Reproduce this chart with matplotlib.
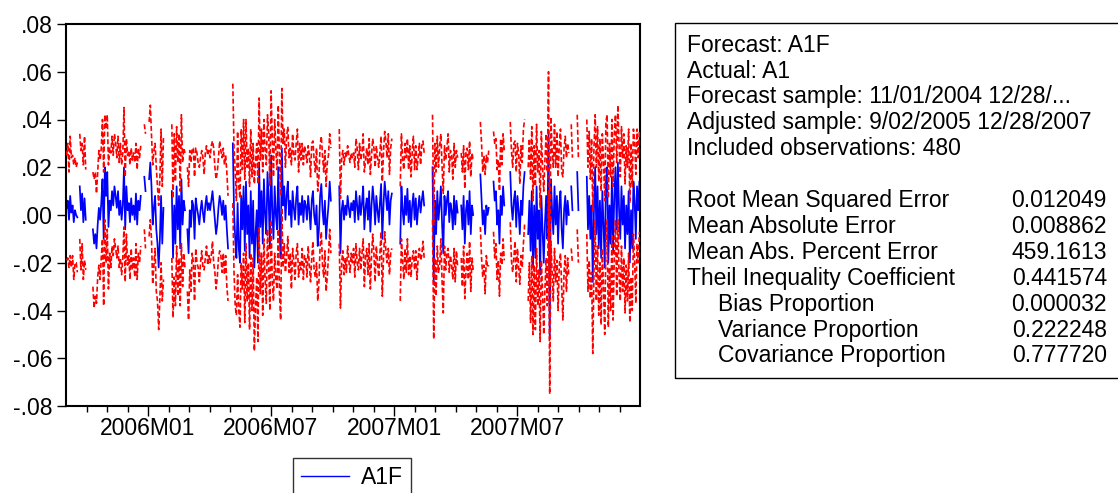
import numpy as np
import matplotlib
matplotlib.use("Agg")
import matplotlib.pyplot as plt
from matplotlib.lines import Line2D
from matplotlib.patches import Rectangle

plt.rcParams['font.family'] = ['Liberation Sans', 'DejaVu Sans']

N = None  # missing observation

# forecast A1F, in thousandths (480 observations, 9/02/2005 - 12/28/2007)
forecast = [
    3, 6, -2, 8, 1, 4, -3, 2, 0, -1, N, 12, 2, 9, -3, 7, -2, N, N, N,
    N, N, -6, -12, -8, -14, -4, 3, -2, 5, 15, -10, 20, 8, 18, -5, 6, 2, 10, 4,
    12, 8, 3, 10, 0, 6, -2, 4, 20, -6, 12, 2, 5, -3, 7, 0, 4, -2, 9, -4,
    6, 2, 8, N, N, 16, 10, N, N, 15, 22, 12, -4, 3, 8, -6, -12, -22, -10, 8,
    -12, 3, N, N, N, N, N, N, 10, -18, 4, -12, 12, -6, 8, -14, 15, -4, 6, 2,
    N, -6, -16, 2, -5, 6, 4, -10, 7, 3, 0, -4, 2, 6, 1, -3, 4, 8, 2, 5,
    2, 6, 10, 4, -2, -8, -4, 3, 8, 5, 0, 6, -2, 4, -6, -14, N, N, N, 30,
    2, -10, -18, 5, -14, -20, 8, -6, 12, -15, 14, -8, 4, -18, 10, -12, 6, -22, -8, 2,
    -20, 22, -5, 10, -12, 15, 0, -8, 18, 6, -14, 25, 2, -10, 12, 0, -6, 20, -4, -18,
    28, 4, 12, -2, 8, 14, 0, 6, -5, 10, 3, -2, 7, 12, -4, 5, 0, 8, -3, 6,
    4, -2, 8, 2, -6, 6, 10, 0, -4, 4, -13, -6, 8, 13, 2, -4, 6, -10, -2, 4,
    14, 6, N, N, N, N, N, N, 12, -16, 2, 6, -2, 4, 0, 8, 3, -1, 5, 2,
    6, -3, 10, 4, -2, 8, 0, 5, 12, -6, 3, 7, -2, 10, -7, 4, 12, 6, -4, 8,
    2, -3, 5, 13, -10, 4, 14, 8, 2, 10, -4, 6, 9, N, N, N, N, N, N, -12,
    12, 2, -4, 8, 0, 11, -3, 6, -5, 4, 9, -2, 7, -4, 3, 8, 1, 6, 10, 4,
    N, N, N, N, N, N, 20, -28, 6, -8, 10, -2, 4, 12, -4, -16, 8, 0, 6, 10,
    -3, 5, 2, -6, 8, -4, 6, 1, N, N, 4, -6, 8, -12, 2, 6, -4, 10, -8, 4,
    0, N, N, N, N, N, 17, 6, -4, 2, -8, 4, 0, 3, N, N, N, 14, 6, 10,
    -4, 2, -12, 8, 0, 12, 4, N, N, N, N, 18, 4, -2, 6, 10, -5, 8, 2, -8,
    6, 0, 12, 18, N, N, -8, 6, -15, 10, -22, 4, -18, 12, -10, 2, -25, 8, -6, -20,
    -4, 8, -10, 35, -52, 15, 2, -8, 12, -4, 8, -12, 4, 10, -6, -14, 2, 8, -4, 6,
    0, N, 12, 2, N, N, N, 18, 2, N, N, N, N, N, N, 16, -6, 8, -10, 4,
    -28, 2, 20, -8, 12, -14, 6, -18, 10, -4, -22, 14, 20, -20, 4, -12, 16, -16, 8, 20,
    -6, 22, 2, -10, 12, -4, 8, -14, 4, -8, 10, -20, 2, -14, 14, 6, -10, 12, 2, 14,
]

# two standard errors around the forecast, in thousandths
two_se = [
    22, 24, 20, 25, 23, 21, 24, 22, 20, 23, N, 22, 25, 21, 24, 26, 21, N, N, N,
    N, N, 24, 27, 26, 23, 22, 24, 25, 23, 25, 28, 22, 28, 24, 26, 22, 24, 23, 21,
    22, 22, 21, 23, 22, 24, 23, 22, 25, 22, 20, 23, 22, 24, 21, 23, 22, 24, 21, 23,
    22, 22, 21, N, N, 22, 24, N, N, 24, 24, 22, 25, 24, 22, 26, 24, 26, 25, 28,
    24, 30, N, N, N, N, N, N, 28, 25, 30, 26, 25, 28, 26, 24, 27, 26, 22, 24,
    N, 26, 28, 25, 27, 22, 24, 26, 21, 23, 22, 24, 22, 21, 23, 20, 22, 21, 23, 22,
    22, 23, 21, 24, 22, 23, 22, 21, 23, 22, 24, 22, 23, 21, 24, 22, N, N, N, 25,
    26, 28, 24, 30, 26, 27, 28, 25, 28, 30, 26, 28, 24, 30, 26, 28, 24, 35, 30, 28,
    33, 27, 28, 26, 30, 25, 27, 29, 24, 28, 26, 27, 30, 26, 28, 27, 25, 26, 28, 26,
    25, 26, 24, 22, 25, 23, 24, 22, 26, 24, 22, 25, 23, 24, 22, 25, 23, 22, 24, 23,
    22, 24, 21, 23, 22, 24, 21, 23, 22, 24, 23, 22, 21, 20, 23, 22, 21, 22, 24, 21,
    20, 22, N, N, N, N, N, N, 24, 23, 22, 21, 23, 22, 24, 21, 22, 23, 21, 22,
    20, 23, 22, 24, 21, 22, 23, 21, 22, 24, 20, 21, 23, 22, 24, 21, 20, 22, 24, 21,
    22, 23, 21, 20, 24, 22, 21, 23, 22, 24, 21, 22, 23, N, N, N, N, N, N, 24,
    22, 21, 23, 22, 24, 21, 22, 23, 21, 22, 24, 21, 22, 23, 21, 22, 20, 23, 21, 22,
    N, N, N, N, N, N, 22, 24, 24, 26, 23, 22, 25, 22, 24, 25, 21, 23, 22, 24,
    21, 22, 23, 21, 22, 24, 21, 23, N, N, 22, 24, 21, 23, 25, 22, 23, 21, 24, 22,
    23, N, N, N, N, N, 22, 24, 22, 23, 25, 21, 22, 24, N, N, N, 21, 24, 22,
    23, 21, 22, 24, 21, 22, 23, N, N, N, N, 21, 23, 22, 24, 21, 23, 22, 24, 21,
    23, 22, 24, 22, N, N, 28, 26, 30, 27, 28, 25, 30, 26, 28, 25, 28, 27, 26, 30,
    27, 26, 28, 25, 23, 26, 25, 28, 26, 24, 27, 28, 25, 26, 24, 30, 26, 25, 28, 24,
    26, N, 26, 22, N, N, N, 24, 22, N, N, N, N, N, N, 24, 26, 27, 25, 28,
    30, 26, 22, 28, 25, 28, 26, 28, 24, 27, 28, 25, 22, 27, 26, 28, 24, 28, 26, 22,
    28, 24, 27, 26, 25, 28, 26, 27, 25, 28, 26, 25, 28, 26, 22, 25, 27, 24, 22, 21,
]

n_months = 28  # Sep 2005 .. Dec 2007
minor_months = list(range(1, 28))
major_months = [4, 10, 16, 22]
major_labels = ["2006M01", "2006M07", "2007M01", "2007M07"]
y_ticks = [0.08, 0.06, 0.04, 0.02, 0.0, -0.02, -0.04, -0.06, -0.08]

header_lines = [
    "Forecast: A1F",
    "Actual: A1",
    "Forecast sample: 11/01/2004 12/28/...",
    "Adjusted sample: 9/02/2005 12/28/2007",
    "Included observations: 480",
]
stat_names = [
    "Root Mean Squared Error",
    "Mean Absolute Error",
    "Mean Abs. Percent Error",
    "Theil Inequality Coefficient",
    "Bias Proportion",
    "Variance Proportion",
    "Covariance Proportion",
]
stat_values = ["0.012049", "0.008862", "459.1613", "0.441574",
               "0.000032", "0.222248", "0.777720"]
stat_indented = [False, False, False, False, True, True, True]

f = np.array(forecast, dtype=float) / 1000
se2 = np.array(two_se, dtype=float) / 1000
assert len(f) == 480 and len(se2) == 480
x = (np.arange(len(f)) + 0.5) * n_months / len(f)

FS = 16.5
W, H = 1118, 493
fig = plt.figure(figsize=(W / 100, H / 100), dpi=100)
ax = fig.add_axes([66 / W, 87 / H, 574 / W, 382 / H])

ax.plot(x, f, color="#0000ff", lw=1.25, zorder=2)
ax.plot(x, f + se2, color="#ff0000", lw=1.2, dashes=(3, 1.5), zorder=3)
ax.plot(x, f - se2, color="#ff0000", lw=1.2, dashes=(3, 1.5), zorder=3)

ax.set_xlim(0, n_months)
ax.set_ylim(-0.08, 0.08)
ax.set_yticks(y_ticks)
ax.set_yticklabels([("%.2f" % v).replace("0.", ".", 1) for v in y_ticks])
ax.set_xticks(major_months)
ax.set_xticklabels(major_labels)
ax.set_xticks([m for m in minor_months if m not in major_months], minor=True)

ax.tick_params(axis="y", direction="out", length=6.5, width=1, pad=3,
               labelsize=FS, right=False)
ax.tick_params(axis="x", which="major", direction="out", length=7, width=1,
               pad=1, labelsize=FS, top=False)
ax.tick_params(axis="x", which="minor", direction="out", length=4.3, width=1,
               top=False)
for sp in ax.spines.values():
    sp.set_linewidth(1.5)
    sp.set_color("black")

# legend below the plot
leg = fig.legend([Line2D([], [], color="#0000ff", lw=1.0)], ["A1F"],
                 loc="upper left", bbox_to_anchor=(293 / W, 35 / H),
                 fontsize=FS, frameon=True, fancybox=False, edgecolor="black",
                 borderaxespad=0, handlelength=2.1, handletextpad=0.5,
                 borderpad=0.35)
leg.get_frame().set_linewidth(1.0)

# statistics box
fig.patches.append(Rectangle((675 / W, 115 / H), 460 / W, 355 / H,
                             transform=fig.transFigure, fill=False,
                             edgecolor="black", lw=1.0, clip_on=False))
line_h = 25.9
y0 = 51.7
for k, s in enumerate(header_lines):
    fig.text(687 / W, (H - (y0 + k * line_h)) / H, s, fontsize=FS,
             va="baseline", ha="left")
for k, (s, v, ind) in enumerate(zip(stat_names, stat_values, stat_indented)):
    yb = (H - (y0 + (k + 6) * line_h)) / H
    fig.text((718 if ind else 687) / W, yb, s, fontsize=FS,
             va="baseline", ha="left")
    fig.text(1107 / W, yb, v, fontsize=FS, va="baseline", ha="right")

fig.savefig("out.png", dpi=100)
